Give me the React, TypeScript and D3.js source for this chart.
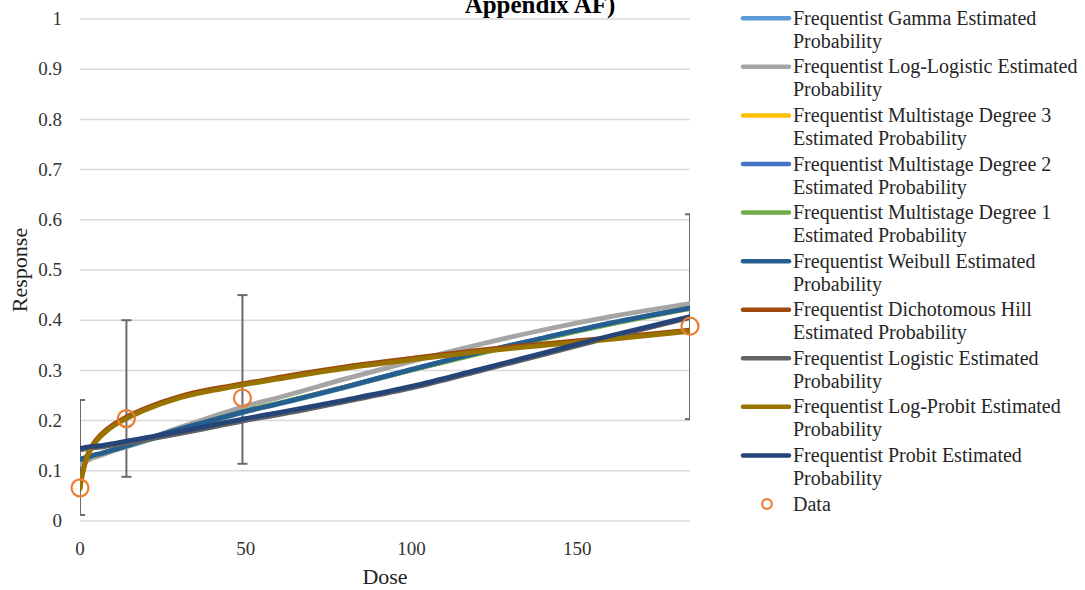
import React from "react";
import * as d3 from "d3";

// Observed dose groups and response fractions with confidence limits
const doses = [0, 14, 49, 184];
const responses = [0.066, 0.204, 0.245, 0.388];
const lowerCI = [0.012, 0.088, 0.114, 0.203];
const upperCI = [0.241, 0.400, 0.450, 0.611];

// Dose grid used for the fitted model curves
const curveDoses = [0, 0.5, 1, 2, 3, 4.5, 6, 8, 10, 14, 20, 30, 40, 49, 60, 80, 100, 120, 140, 160, 184];

const gammaFit = [0.121, 0.122, 0.123, 0.125, 0.127, 0.130, 0.132, 0.136, 0.140, 0.148, 0.160, 0.180, 0.199, 0.216, 0.233, 0.266, 0.301, 0.335, 0.365, 0.394, 0.425];
const logLogisticFit = [0.114, 0.115, 0.117, 0.120, 0.123, 0.127, 0.130, 0.135, 0.140, 0.150, 0.163, 0.186, 0.208, 0.227, 0.246, 0.283, 0.318, 0.351, 0.381, 0.407, 0.433];
const multistage3Fit = [0.122, 0.123, 0.124, 0.126, 0.128, 0.131, 0.133, 0.137, 0.141, 0.149, 0.161, 0.181, 0.200, 0.217, 0.234, 0.267, 0.301, 0.334, 0.364, 0.393, 0.424];
const multistage2Fit = [0.122, 0.123, 0.124, 0.126, 0.128, 0.131, 0.133, 0.137, 0.141, 0.149, 0.161, 0.181, 0.200, 0.217, 0.234, 0.267, 0.301, 0.334, 0.364, 0.393, 0.424];
const multistage1Fit = [0.123, 0.124, 0.125, 0.127, 0.129, 0.131, 0.134, 0.138, 0.142, 0.150, 0.162, 0.182, 0.201, 0.218, 0.235, 0.267, 0.301, 0.333, 0.363, 0.392, 0.423];
const weibullFit = [0.123, 0.124, 0.125, 0.127, 0.129, 0.132, 0.134, 0.138, 0.142, 0.150, 0.163, 0.183, 0.201, 0.217, 0.234, 0.267, 0.302, 0.335, 0.365, 0.394, 0.424];
const hillFit = [0.066, 0.088, 0.103, 0.127, 0.142, 0.158, 0.170, 0.182, 0.192, 0.207, 0.225, 0.248, 0.263, 0.273, 0.286, 0.307, 0.324, 0.340, 0.353, 0.365, 0.380];
const logisticFit = [0.142, 0.142, 0.143, 0.144, 0.145, 0.146, 0.147, 0.149, 0.151, 0.155, 0.162, 0.174, 0.187, 0.199, 0.212, 0.238, 0.265, 0.298, 0.332, 0.366, 0.405];
const logProbitFit = [0.064, 0.085, 0.100, 0.124, 0.139, 0.155, 0.167, 0.179, 0.189, 0.204, 0.222, 0.245, 0.260, 0.271, 0.283, 0.304, 0.321, 0.337, 0.350, 0.362, 0.378];
const probitFit = [0.145, 0.145, 0.146, 0.147, 0.148, 0.149, 0.150, 0.152, 0.154, 0.159, 0.166, 0.178, 0.191, 0.203, 0.216, 0.241, 0.268, 0.301, 0.335, 0.369, 0.407];

const seriesNames = [
  ["Frequentist Gamma Estimated", "Probability"],
  ["Frequentist Log-Logistic Estimated", "Probability"],
  ["Frequentist Multistage Degree 3", "Estimated Probability"],
  ["Frequentist Multistage Degree 2", "Estimated Probability"],
  ["Frequentist Multistage Degree 1", "Estimated Probability"],
  ["Frequentist Weibull Estimated", "Probability"],
  ["Frequentist Dichotomous Hill", "Estimated Probability"],
  ["Frequentist Logistic Estimated", "Probability"],
  ["Frequentist Log-Probit Estimated", "Probability"],
  ["Frequentist Probit Estimated", "Probability"],
];
const seriesValues = [
  gammaFit, logLogisticFit, multistage3Fit, multistage2Fit, multistage1Fit,
  weibullFit, hillFit, logisticFit, logProbitFit, probitFit,
];
const seriesColors = [
  "#5B9BD5", "#A5A5A5", "#FFC000", "#4472C4", "#70AD47",
  "#255E91", "#9E480E", "#636363", "#997300", "#264478",
];

const yTicks = [0, 0.1, 0.2, 0.3, 0.4, 0.5, 0.6, 0.7, 0.8, 0.9, 1];
const xTicks = [0, 50, 100, 150];

const W = 1085;
const H = 590;
const plot = { left: 80, right: 690, top: 19, bottom: 521 };
const FONT = "'Liberation Serif', 'Times New Roman', serif";
const dataColor = "#ED7D31";

export default function App() {
  const x = d3.scaleLinear().domain([0, 184]).range([plot.left, plot.right]);
  const y = d3.scaleLinear().domain([0, 1]).range([plot.bottom, plot.top]);

  const line = d3
    .line<number>()
    .x((_, i) => x(curveDoses[i]))
    .y((v) => y(v))
    .curve(d3.curveMonotoneX);

  const legendX = 743;
  const legendTop = 18.3;
  const legendStep = 48.57;

  return (
    <svg
      width={W}
      height={H}
      viewBox={`0 0 ${W} ${H}`}
      style={{ position: "absolute", left: 0, top: 0, background: "#fff" }}
      fontFamily={FONT}
    >
      <defs>
        <clipPath id="plot-clip">
          <rect x={plot.left} y={0} width={plot.right - plot.left} height={H} />
        </clipPath>
      </defs>

      {/* title (last line, running into the top edge) */}
      <text x={540} y={12.5} textAnchor="middle" fontSize={25} fontWeight="bold" fill="#000">
        Appendix AF)
      </text>

      {/* gridlines */}
      {yTicks.map((t) => (
        <line
          key={`g${t}`}
          x1={plot.left}
          x2={plot.right}
          y1={y(t)}
          y2={y(t)}
          stroke="#D9D9D9"
          strokeWidth={1.5}
        />
      ))}

      {/* y tick labels */}
      {yTicks.map((t) => (
        <text
          key={`yl${t}`}
          x={62}
          y={y(t)}
          dy="0.33em"
          textAnchor="end"
          fontSize={19}
          fill="#333"
        >
          {d3.format("~g")(t)}
        </text>
      ))}

      {/* x tick labels */}
      {xTicks.map((t) => (
        <text key={`xl${t}`} x={x(t)} y={555} textAnchor="middle" fontSize={19} fill="#333">
          {t}
        </text>
      ))}

      {/* axis titles */}
      <text x={385} y={584} textAnchor="middle" fontSize={22} fill="#222">
        Dose
      </text>
      <text
        transform={`translate(27,${(plot.top + plot.bottom) / 2}) rotate(-90)`}
        textAnchor="middle"
        fontSize={22}
        fill="#222"
      >
        Response
      </text>

      <g clipPath="url(#plot-clip)">
        {/* error bars */}
        {doses.map((d, i) => (
          <g key={`eb${i}`} stroke="#6B6B6B" strokeWidth={2} fill="none">
            <line x1={x(d)} x2={x(d)} y1={y(lowerCI[i])} y2={y(upperCI[i])} />
            <line x1={x(d) - 5} x2={x(d) + 5} y1={y(lowerCI[i])} y2={y(lowerCI[i])} />
            <line x1={x(d) - 5} x2={x(d) + 5} y1={y(upperCI[i])} y2={y(upperCI[i])} />
          </g>
        ))}

        {/* fitted model curves */}
        {seriesValues.map((vals, i) => (
          <path
            key={`s${i}`}
            d={line(vals) || ""}
            fill="none"
            stroke={seriesColors[i]}
            strokeWidth={4.8}
            strokeLinecap="round"
            strokeLinejoin="round"
          />
        ))}
      </g>

      {/* observed data */}
      {doses.map((d, i) => (
        <circle
          key={`p${i}`}
          cx={x(d)}
          cy={y(responses[i])}
          r={8.5}
          fill="none"
          stroke={dataColor}
          strokeWidth={2.2}
        />
      ))}

      {/* legend */}
      {seriesNames.map((name, i) => {
        const cy = legendTop + i * legendStep;
        return (
          <g key={`lg${i}`}>
            <line
              x1={legendX}
              x2={legendX + 46}
              y1={cy}
              y2={cy}
              stroke={seriesColors[i]}
              strokeWidth={4.5}
              strokeLinecap="round"
            />
            <text x={793} y={cy + 6.5} fontSize={20} fill="#262626">
              {name[0]}
            </text>
            <text x={793} y={cy + 29.5} fontSize={20} fill="#262626">
              {name[1]}
            </text>
          </g>
        );
      })}
      <circle
        cx={767}
        cy={legendTop + seriesNames.length * legendStep}
        r={4.8}
        fill="none"
        stroke={dataColor}
        strokeWidth={2.2}
      />
      <text
        x={793}
        y={legendTop + seriesNames.length * legendStep + 6.5}
        fontSize={20}
        fill="#262626"
      >
        Data
      </text>
    </svg>
  );
}
